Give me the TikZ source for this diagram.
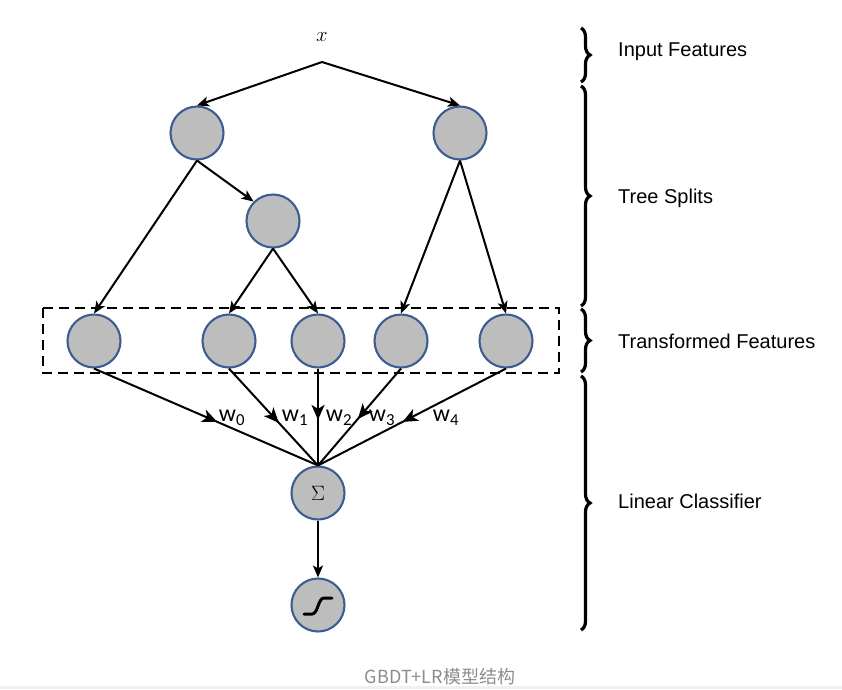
\documentclass[tikz,border=0pt]{standalone}
\usepackage{fontspec}
\setmainfont{Liberation Sans}
\newfontfamily\wfont{Carlito}
\newfontfamily\cjk{Noto Sans CJK SC}
\usetikzlibrary{arrows.meta,calc,decorations.pathreplacing,decorations.markings}
\definecolor{nodefill}{HTML}{BDBDBD}
\definecolor{nodeedge}{HTML}{3D5C92}
\definecolor{captiongray}{HTML}{8C8C8C}
\begin{document}
\begin{tikzpicture}[x=1pt,y=-1pt,
  unit/.style={circle,draw=nodeedge,fill=nodefill,line width=2.1pt,minimum size=53pt,inner sep=0pt},
  link/.style={line width=2pt,-{Stealth[length=12pt,width=10pt,inset=3pt]}},
  midlink/.style={line width=2pt,postaction={decorate},decoration={markings,
     mark=at position #1 with {\arrow{Stealth[length=15pt,width=13pt,inset=4pt]}}}},
  wlab/.style={font=\wfont\fontsize{24}{24}\selectfont,inner sep=0pt},
  bracket/.style={line width=3.2pt,decorate,decoration={brace,amplitude=9pt}},
  blabel/.style={anchor=west,font=\fontsize{20}{20}\selectfont,inner sep=0pt}]
\useasboundingbox (0,0) rectangle (842,689);

% input and split nodes
\node[font=\fontsize{22}{22}\selectfont] (x) at (322,37) {$x$};
\coordinate (apex) at (322,62);
\node[unit] (A) at (197,133) {};
\node[unit] (B) at (460,133) {};
\node[unit] (C) at (273,221) {};

% transformed features
\node[unit] (L0) at (94,341) {};
\node[unit] (L1) at (229,341) {};
\node[unit] (L2) at (318,341) {};
\node[unit] (L3) at (401,341) {};
\node[unit] (L4) at (506,341) {};
\draw[line width=2.2pt,dash pattern=on 10pt off 6pt] (43,308) rectangle (559,373);

% classifier nodes
\node[unit,font=\fontsize{22}{22}\selectfont] (S) at (318,493) {$\Sigma$};
\node[unit] (G) at (318,605) {};
\draw[line width=3pt,line cap=round] ($(G)+(-14,9)$) -- ($(G)+(-6,9)$)
  .. controls ($(G)+(0,9)$) and ($(G)+(0,-7)$) .. ($(G)+(6,-7)$) -- ($(G)+(14,-7)$);

% tree edges
\draw[link] (apex) -- (A.north);
\draw[link] (apex) -- (B.north);
\draw[link] (A.south) -- (L0.north);
\draw[link] (A.south) -- (C.north west);
\draw[link] (C.south) -- (L1.north);
\draw[link] (C.south) -- (L2.north);
\draw[link] (B.south) -- (L3.north);
\draw[link] (B.south) -- (L4.north);

% weighted edges into the sum
\draw[midlink=0.55] (L0.south) -- (S.north);
\draw[midlink=0.56] (L1.south) -- (S.north);
\draw[midlink=0.53] (L2.south) -- (S.north);
\draw[midlink=0.52] (L3.south) -- (S.north);
\draw[midlink=0.55] (L4.south) -- (S.north);
\draw[link] (S.south) -- (G.north);

\node[wlab] (w0) at (232,418) {w\textsubscript{0}};
\node[wlab] (w1) at (295,418) {w\textsubscript{1}};
\node[wlab] (w2) at (339,418) {w\textsubscript{2}};
\node[wlab] (w3) at (382,418) {w\textsubscript{3}};
\node[wlab] (w4) at (446,418) {w\textsubscript{4}};

% layer brackets
\draw[bracket] (581,28) -- (581,82);
\draw[bracket] (581,86) -- (581,306);
\draw[bracket] (581,309) -- (581,372);
\draw[bracket] (581,376) -- (581,630);
\node[blabel] (t1) at (618,52) {Input Features};
\node[blabel] (t2) at (618,198) {Tree Splits};
\node[blabel] (t3) at (618,341) {Transformed Features};
\node[blabel] (t4) at (618,501) {Linear Classifier};

% caption
\node[font=\cjk\fontsize{18}{18}\selectfont,text=captiongray] (cap) at (440,677) {GBDT+LR模型结构};
\fill[black!6] (0,686) rectangle (842,689);
\end{tikzpicture}
\end{document}
